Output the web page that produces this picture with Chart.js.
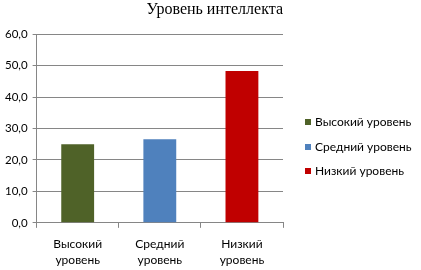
<!DOCTYPE html>
<html>
<head>
<meta charset="utf-8">
<script src="https://cdn.jsdelivr.net/npm/chart.js@4/dist/chart.umd.min.js"></script>
<style>
  html, body { margin: 0; padding: 0; background: #fff; }
  #wrap { width: 421px; height: 270px; }
</style>
</head>
<body>
<div id="wrap"><canvas id="chart"></canvas></div>
<script>
// data
const categories = [['Высокий', 'уровень'], ['Средний', 'уровень'], ['Низкий', 'уровень']];
const legendNames = ['Высокий уровень', 'Средний уровень', 'Низкий уровень'];
const values = [25.0, 26.6, 48.3];
const barColors = ['#4F6228', '#4F81BD', '#C00000'];

const gridColor = '#868686';
const sans = 'Lato, "Liberation Sans", sans-serif';

// the built-in legend can't get wide enough next to the y axis,
// so the legend is drawn in the space kept free on the right
const sideLegend = {
  id: 'sideLegend',
  afterDraw(chart) {
    const ctx = chart.ctx;
    const area = chart.chartArea;
    const x = area.right + 22;
    const mid = area.top + (area.bottom - area.top) / 2 + 18;
    const step = 24.5;
    ctx.save();
    ctx.font = '12px ' + sans;
    ctx.textBaseline = 'middle';
    legendNames.forEach((name, i) => {
      const y = Math.round(mid + (i - 1) * step);
      ctx.fillStyle = barColors[i];
      ctx.fillRect(x, y - 3, 6, 6);
      ctx.fillStyle = '#000';
      ctx.fillText(name, x + 10, y + 0.5);
    });
    ctx.restore();
  }
};

new Chart(document.getElementById('chart'), {
  type: 'bar',
  data: {
    labels: categories,
    datasets: [{
      label: 'Уровень интеллекта',
      data: values,
      backgroundColor: barColors,
      borderWidth: 0,
      barPercentage: 0.4,
      categoryPercentage: 1.0
    }]
  },
  plugins: [sideLegend],
  options: {
    responsive: true,
    maintainAspectRatio: false,
    animation: false,
    // negative bottom: chart.js counts the x tick padding twice
    layout: { padding: { left: 0, right: 138, top: 0, bottom: -6 } },
    plugins: {
      title: {
        display: true,
        text: 'Уровень интеллекта',
        align: 'end',
        color: '#000',
        font: { family: '"Liberation Serif", serif', size: 16, weight: 'normal' },
        padding: { top: 0, bottom: 15 }
      },
      legend: { display: false },
      tooltip: { enabled: false }
    },
    scales: {
      x: {
        grid: {
          drawOnChartArea: false,
          drawTicks: true,
          tickLength: 5,
          color: gridColor
        },
        border: { color: gridColor },
        ticks: {
          color: '#000',
          font: { family: sans, size: 12, lineHeight: 1.34 },
          padding: 8
        }
      },
      y: {
        min: 0,
        max: 60,
        ticks: {
          stepSize: 10,
          color: '#000',
          font: { family: sans, size: 11.5 },
          padding: 5,
          callback: (v) => v.toFixed(1).replace('.', ',')
        },
        grid: { color: gridColor, tickLength: 4 },
        border: { color: gridColor }
      }
    }
  }
});
</script>
</body>
</html>
